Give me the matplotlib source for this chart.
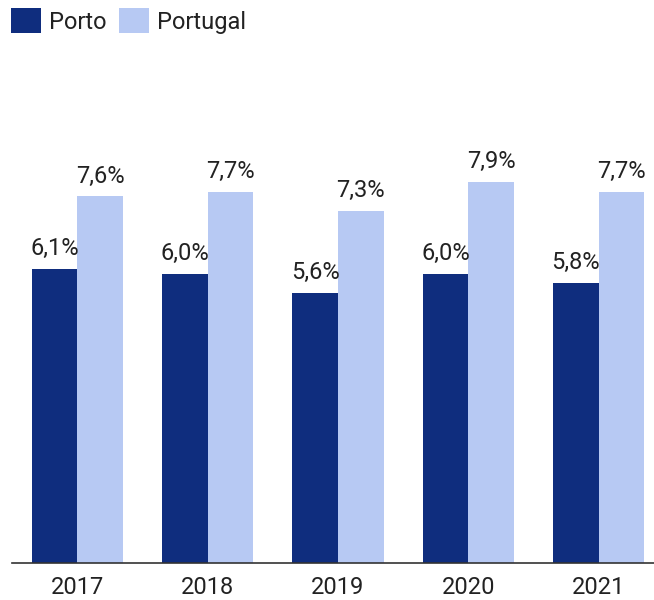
import matplotlib.pyplot as plt
import numpy as np

plt.rcParams['font.family'] = ['Roboto', 'DejaVu Sans']

years = ["2017", "2018", "2019", "2020", "2021"]
porto = [6.1, 6.0, 5.6, 6.0, 5.8]
portugal = [7.6, 7.7, 7.3, 7.9, 7.7]

dark = "#0F2D7E"
light = "#B7C9F3"
text_col = "#222222"

fig = plt.figure(figsize=(6.54, 6.0), dpi=100)
ax = fig.add_axes([12 / 654, 37 / 600, 1 - 12 / 654, 463 / 600])

x = np.arange(len(years))
w = 0.35
b1 = ax.bar(x - w / 2, porto, w, color=dark, label="Porto")
b2 = ax.bar(x + w / 2, portugal, w, color=light, label="Portugal")

for bars, vals in [(b1, porto), (b2, portugal)]:
    for rect, v in zip(bars, vals):
        ax.annotate(f"{v:.1f}%".replace(".", ","),
                    (rect.get_x() + rect.get_width() / 2, rect.get_height()),
                    xytext=(0, 10), textcoords="offset points",
                    ha="center", va="baseline", fontsize=17, color=text_col)

ax.set_xlim(-0.5, 4.5 - 10 / 130.4)
ax.set_ylim(0, 9.6)
ax.set_xticks(x)
ax.set_xticklabels(years, fontsize=17, color=text_col)
ax.tick_params(axis="x", length=0, pad=9)
ax.set_yticks([])
for s in ["top", "right", "left"]:
    ax.spines[s].set_visible(False)
ax.spines["bottom"].set_color("#333333")
ax.spines["bottom"].set_linewidth(1.2)

fig.legend(loc="upper left", bbox_to_anchor=(4 / 654, 1 - 1 / 600), frameon=False,
           ncol=2, fontsize=17, handlelength=1.25, handleheight=1.25,
           handletextpad=0.35, columnspacing=0.55, borderaxespad=0, borderpad=0.3,
           labelcolor=text_col)

plt.savefig("out.png", dpi=100)
plt.close()
